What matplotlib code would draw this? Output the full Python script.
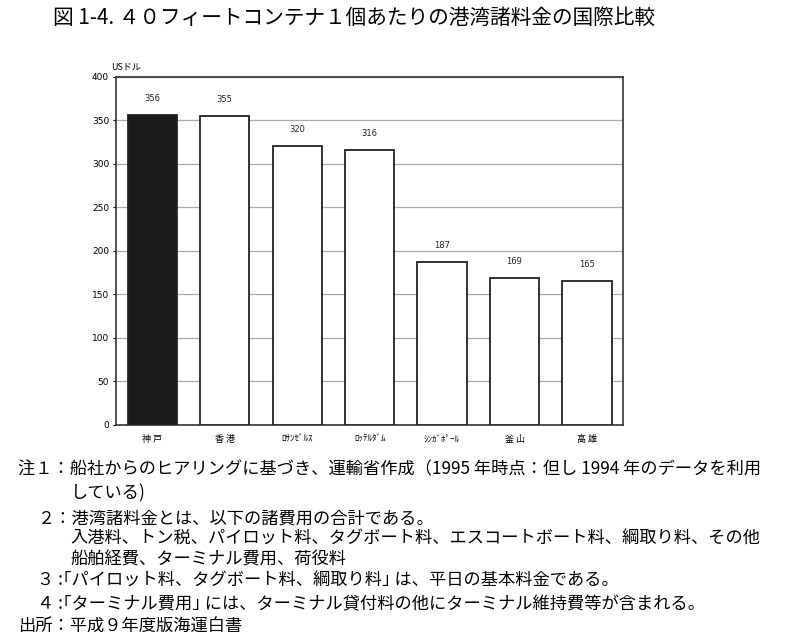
import matplotlib
matplotlib.use("Agg")
import matplotlib.pyplot as plt

plt.rcParams["font.family"] = ["Noto Sans CJK JP", "DejaVu Sans"]

ports = ["神 戸", "香 港", "ﾛｻﾝｾﾞﾙｽ", "ﾛｯﾃﾙﾀﾞﾑ", "ｼﾝｶﾞﾎﾟｰﾙ", "釜 山", "高 雄"]
charges = [356, 355, 320, 316, 187, 169, 165]
bar_colors = ["#1a1a1a", "white", "white", "white", "white", "white", "white"]
yticks = [0, 50, 100, 150, 200, 250, 300, 350, 400]

title = "図 1-4. ４０フィートコンテナ１個あたりの港湾諸料金の国際比較"
notes = [
    (0.022, "注１：船社からのヒアリングに基づき、運輸省作成（1995 年時点：但し 1994 年のデータを利用"),
    (0.088, "している)"),
    (0.046, "２：港湾諸料金とは、以下の諸費用の合計である。"),
    (0.088, "入港料、トン税、パイロット料、タグボート料、エスコートボート料、綱取り料、その他"),
    (0.088, "船舶経費、ターミナル費用、荷役料"),
    (0.046, "３ :｢パイロット料、タグボート料、綱取り料｣ は、平日の基本料金である。"),
    (0.046, "４ :｢ターミナル費用｣ には、ターミナル貸付料の他にターミナル維持費等が含まれる。"),
    (0.022, "出所：平成９年度版海運白書"),
]
note_y = [0.266, 0.229, 0.189, 0.158, 0.125, 0.092, 0.056, 0.020]

fig = plt.figure(figsize=(8, 6.4), dpi=100)
ax = fig.add_axes([0.145, 0.336, 0.634, 0.544])

x = range(len(ports))
bars = ax.bar(x, charges, width=0.68, color=bar_colors, edgecolor="#222222",
              linewidth=1.3, zorder=3)
for b, v in zip(bars, charges):
    ax.text(b.get_x() + b.get_width() / 2, v + 14, str(v), ha="center",
            va="bottom", fontsize=6, family="DejaVu Sans", color="#222222")

ax.set_xlim(-0.5, len(ports) - 0.5)
ax.set_ylim(0, 400)
ax.set_yticks(yticks)
ax.set_yticklabels([str(t) for t in yticks], fontsize=6.5, family="DejaVu Sans")
ax.set_xticks(list(x))
ax.set_xticklabels(ports, fontsize=6.5)
ax.tick_params(axis="x", length=0, pad=7)
ax.tick_params(axis="y", length=2, pad=3)
ax.yaxis.grid(True, color="#aaaaaa", lw=0.9, zorder=0)
for s in ax.spines.values():
    s.set_color("#333333")
    s.set_linewidth(1.2)

ax.text(-0.01, 1.015, "USドル", transform=ax.transAxes, fontsize=6.5,
        ha="left", va="bottom")

fig.text(0.066, 0.972, title, fontsize=14.9, ha="left", va="center")
for (xx, txt), yy in zip(notes, note_y):
    fig.text(xx, yy, txt, fontsize=12.4, ha="left", va="center")

fig.savefig("out.png", dpi=100, facecolor="white")
